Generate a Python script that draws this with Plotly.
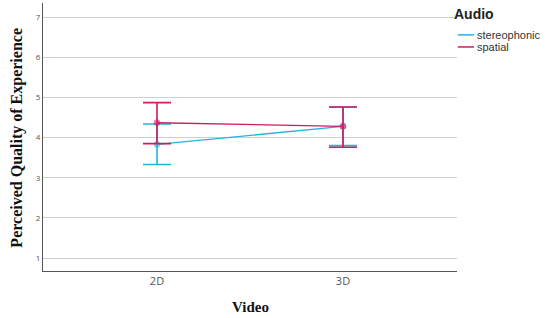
import plotly.graph_objects as go

videos = ['2D', '3D']
stereo_mean = [3.83, 4.28]
stereo_upper = [4.34, 4.76]
stereo_lower = [3.33, 3.80]
spatial_mean = [4.37, 4.28]
spatial_upper = [4.87, 4.76]
spatial_lower = [3.85, 3.76]

series = [
    ('stereophonic', stereo_mean, stereo_upper, stereo_lower, '#1EB6DC'),
    ('spatial', spatial_mean, spatial_upper, spatial_lower, '#D31A5E'),
]

fig = go.Figure()

for name, mean, upper, lower, color in series:
    fig.add_trace(go.Scatter(
        x=videos,
        y=mean,
        name=name,
        mode='lines+markers',
        showlegend=False,
        line=dict(color=color, width=1.3),
        marker=dict(size=6, color=color, opacity=0.55,
                    line=dict(color=color, width=1)),
        error_y=dict(
            type='data',
            symmetric=False,
            array=[u - m for u, m in zip(upper, mean)],
            arrayminus=[m - l for m, l in zip(mean, lower)],
            color=color,
            thickness=1.6,
            width=14,
        ),
    ))

# hand-drawn legend (SPSS style: short line + label, tight spacing)
fig.add_annotation(x=0.988, y=0.959, xref='paper', yref='paper', xanchor='left', yanchor='middle',
                   text='<b>Audio</b>', showarrow=False,
                   font=dict(family='Liberation Sans, Arial, sans-serif', size=14, color='#222'))
for i, (name, mean, upper, lower, color) in enumerate(series):
    ly = 0.881 - i * 0.045
    fig.add_shape(type='line', xref='paper', yref='paper', x0=1.002, x1=1.041, y0=ly, y1=ly,
                  line=dict(color=color, width=1.5))
    fig.add_annotation(x=1.043, y=ly, xref='paper', yref='paper', xanchor='left', yanchor='middle',
                       text=name, showarrow=False,
                       font=dict(family='Liberation Sans, Arial, sans-serif', size=11, color='#333'))

# axis titles
fig.add_annotation(x=0.5, y=-0.134, xref='paper', yref='paper', xanchor='center', yanchor='middle',
                   text='<b>Video</b>', showarrow=False,
                   font=dict(family='Liberation Serif, serif', size=15, color='#111'))
fig.add_annotation(x=-0.065, y=0.498, xref='paper', yref='paper', xanchor='center', yanchor='middle',
                   text='<b>Perceived Quality of Experience</b>', textangle=-90, showarrow=False,
                   font=dict(family='Liberation Serif, serif', size=16, color='#111'))

fig.update_layout(
    width=550,
    height=318,
    margin=dict(l=43, r=93, t=3, b=47),
    plot_bgcolor='white',
    paper_bgcolor='white',
    showlegend=False,
    font=dict(family='Open Sans, sans-serif', color='#444'),
    xaxis=dict(
        type='category',
        range=[-0.613, 1.613],
        showline=True, linecolor='#555', linewidth=1.2,
        showgrid=False,
        ticks='',
        tickfont=dict(size=11, color='#555'),
    ),
    yaxis=dict(
        range=[0.68, 7.35],
        tickvals=[1, 2, 3, 4, 5, 6, 7],
        showline=True, linecolor='#555', linewidth=1.2,
        showgrid=True, gridcolor='#CFCFCF', gridwidth=1,
        zeroline=False,
        ticks='',
        tickfont=dict(size=8, color='#555'),
    ),
)

fig.write_html('out.html', config={'displayModeBar': False},
               post_script="document.body.style.margin='0';")
